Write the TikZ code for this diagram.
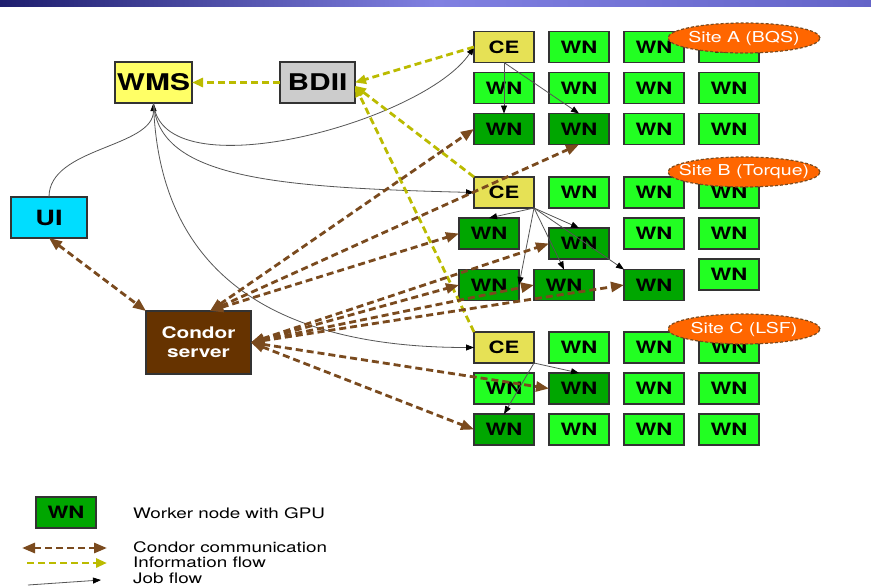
\documentclass[tikz,border=0pt]{standalone}
\usepackage{fontspec}
\setmainfont{TeX Gyre Heros}
\usepackage{graphicx}
\usetikzlibrary{positioning,shapes.geometric,arrows.meta}
\definecolor{wmsyellow}{HTML}{FFFF66}
\definecolor{cefill}{HTML}{E6E155}
\definecolor{bdiigray}{HTML}{CCCCCC}
\definecolor{uicyan}{HTML}{00DDFF}
\definecolor{wnlight}{HTML}{22FF22}
\definecolor{wndark}{HTML}{00A600}
\definecolor{condorbrown}{HTML}{663300}
\definecolor{condorline}{HTML}{7A4A1E}
\definecolor{infoline}{HTML}{BBBB00}
\definecolor{siteorange}{HTML}{FF6600}
\definecolor{boxline}{HTML}{333333}
\definecolor{jobline}{HTML}{555555}
\newcommand{\wide}[1]{\scalebox{1.3}[1]{#1}}
\tikzset{box/.style={draw=boxline,line width=1.3pt,inner sep=0pt,outer sep=0pt,minimum width=60pt,minimum height=31pt,font=\bfseries\fontsize{17}{17}\selectfont},
  ce node/.style={box,fill=cefill},
  wn node/.style={box,fill=wnlight},
  gpu node/.style={box,fill=wndark},
  site node/.style={ellipse,draw=condorline,dash pattern=on 3pt off 2pt,line width=1.2pt,fill=siteorange,text=white,minimum width=152pt,minimum height=30pt,inner xsep=-14pt,inner ysep=0pt,font=\fontsize{15}{15}\selectfont},
  job/.style={draw=jobline,line width=0.8pt,-{Triangle[length=8pt,width=6pt,color=black]}},
  info/.style={draw=infoline,line width=2.8pt,dash pattern=on 7pt off 4pt,-{Triangle[length=11pt,width=9pt]}},
  condor/.style={draw=condorline,line width=2.8pt,dash pattern=on 7pt off 4pt,{Triangle[length=13pt,width=10pt]}-{Triangle[length=13pt,width=10pt]}},
  legend text/.style={anchor=base west,inner sep=0pt,font=\fontsize{14.5}{14.5}\selectfont}
}

\begin{document}
\begin{tikzpicture}[x=1pt,y=1pt]
  \useasboundingbox (0,0) rectangle (871,-587);
  \fill[white] (0,0) rectangle (871,-587);
  \shade[left color={rgb,255:red,30;green,30;blue,110},right color={rgb,255:red,100;green,100;blue,200},middle color={rgb,255:red,128;green,128;blue,225}] (0,0) rectangle (871,-6.5);

  % grid services
  \node[box,fill=wmsyellow,minimum width=77pt,minimum height=41pt,font=\bfseries\fontsize{23}{23}\selectfont] (wms) at (153.5,-82.5) {\wide{WMS}};
  \node[box,fill=bdiigray,minimum width=75pt,minimum height=41pt,font=\bfseries\fontsize{23}{23}\selectfont] (bdii) at (317.5,-82.5) {\wide{BDII}};
  \node[box,fill=uicyan,minimum width=76pt,minimum height=41pt,font=\bfseries\fontsize{21}{21}\selectfont] (ui) at (49,-217.5) {\wide{UI}};
  \node[box,fill=condorbrown,text=white,align=center,minimum width=105pt,minimum height=63pt,font=\bfseries\fontsize{16}{19}\selectfont] (cs) at (198.5,-342.5) {\wide{Condor}\\\wide{server}};

  % site A
  \node[ce node] (cea) at (504,-47) {\wide{CE}};
  \node[wn node] (a12) [right=15pt of cea] {\wide{WN}};
  \node[wn node] (a13) [right=15pt of a12] {\wide{WN}};
  \node[wn node] (a14) [right=15pt of a13] {\wide{WN}};
  \node[wn node] (a21) [below=10pt of cea] {\wide{WN}};
  \node[wn node] (a22) [right=15pt of a21] {\wide{WN}};
  \node[wn node] (a23) [right=15pt of a22] {\wide{WN}};
  \node[wn node] (a24) [right=15pt of a23] {\wide{WN}};
  \node[gpu node] (a31) [below=10pt of a21] {\wide{WN}};
  \node[gpu node] (a32) [right=15pt of a31] {\wide{WN}};
  \node[wn node] (a33) [right=15pt of a32] {\wide{WN}};
  \node[wn node] (a34) [right=15pt of a33] {\wide{WN}};

  % site B
  \node[ce node] (ceb) at (504,-192.5) {\wide{CE}};
  \node[wn node] (b12) [right=15pt of ceb] {\wide{WN}};
  \node[wn node] (b13) [right=15pt of b12] {\wide{WN}};
  \node[wn node] (b14) [right=15pt of b13] {\wide{WN}};
  \node[gpu node] (b21) at (489,-233.5) {\wide{WN}};
  \node[gpu node] (b22) at (579,-243.5) {\wide{WN}};
  \node[wn node] (b23) [below=10pt of b13] {\wide{WN}};
  \node[wn node] (b24) [below=10pt of b14] {\wide{WN}};
  \node[wn node] (b34) [below=10pt of b24] {\wide{WN}};
  \node[gpu node] (b31) at (489,-285) {\wide{WN}};
  \node[gpu node] (b32) [right=15pt of b31] {\wide{WN}};
  \node[gpu node] (b33) at (654,-285) {\wide{WN}};

  % site C
  \node[ce node] (cec) at (504,-347.5) {\wide{CE}};
  \node[wn node] (c12) [right=15pt of cec] {\wide{WN}};
  \node[wn node] (c13) [right=15pt of c12] {\wide{WN}};
  \node[wn node] (c14) [right=15pt of c13] {\wide{WN}};
  \node[wn node] (c21) [below=10pt of cec] {\wide{WN}};
  \node[gpu node] (c22) [right=15pt of c21] {\wide{WN}};
  \node[wn node] (c23) [right=15pt of c22] {\wide{WN}};
  \node[wn node] (c24) [right=15pt of c23] {\wide{WN}};
  \node[gpu node] (c31) [below=10pt of c21] {\wide{WN}};
  \node[wn node] (c32) [right=15pt of c31] {\wide{WN}};
  \node[wn node] (c33) [right=15pt of c32] {\wide{WN}};
  \node[wn node] (c34) [right=15pt of c33] {\wide{WN}};

  % job flow
  \draw[job] (ui.north) .. controls +(0,50) and +(0,-45) .. (wms.south);
  \draw[job] (wms.south) .. controls +(8,-90) and +(-50,-75) .. (cea.west);
  \draw[job] (wms.south) .. controls +(5,-75) and +(-200,5) .. (ceb.west);
  \draw[job] (wms.south) .. controls +(5,-170) and +(-200,0) .. (cec.west);
  \draw[job] (cea.south) -- (a31.north);
  \draw[job] (cea.south) -- (a32.north);
  \draw[job] (ceb.south east) -- (b21.north);
  \draw[job] (ceb.south east) -- (b22.north);
  \draw[job] (ceb.south east) -- (b31.east);
  \draw[job] (ceb.south east) -- (b32.north);
  \draw[job] (ceb.south east) -- (b33.north west);
  \draw[job] (cec.south east) -- (c22.north);
  \draw[job] (cec.south east) -- (c31.north);

  % information flow
  \draw[info] (bdii.west) -- (wms.east);
  \draw[info] (cea.west) -- (bdii.east);
  \draw[info] (ceb.north west) -- (bdii.-5);
  \draw[info] (cec.north west) -- (bdii.-5);

  % condor communication
  \draw[condor] (ui.south) -- (cs.north west);
  \draw[condor] (cs.70) -- (a31.west);
  \draw[condor] (cs.70) -- (a32.south);
  \draw[condor] (cs.70) -- (b21.west);
  \draw[condor] (cs.east) -- (b22.west);
  \draw[condor] (cs.east) -- (b31.west);
  \draw[condor] (cs.east) -- (b32.west);
  \draw[condor] (cs.east) -- (b33.west);
  \draw[condor] (cs.east) -- (c22.west);
  \draw[condor] (cs.east) -- (c31.west);

  % sites
  \node[site node] (sitea) at (744,-38) {\wide{Site A (BQS)}};
  \node[site node] (siteb) at (744,-172) {\wide{Site B (Torque)}};
  \node[site node] (sitec) at (744,-329) {\wide{Site C (LSF)}};

  % legend
  \node[gpu node] (legwn) at (66,-512.5) {\wide{WN}};
  \node[legend text] (legwntext) at (133,-518) {\wide{Worker node with GPU}};
  \coordinate (lca) at (22,-548);
  \coordinate (lcb) at (107,-548);
  \coordinate (lia) at (27,-563);
  \coordinate (lib) at (107,-563);
  \coordinate (lja) at (28,-585);
  \coordinate (ljb) at (101,-580);
  \draw[condor] (lca) -- (lcb);
  \draw[info] (lia) -- (lib);
  \draw[job] (lja) -- (ljb);
  \node[legend text] (legcondor) at (133,-552) {\wide{Condor communication}};
  \node[legend text] (leginfo) at (133,-567) {\wide{Information flow}};
  \node[legend text] (legjob) at (133,-583) {\wide{Job flow}};
\end{tikzpicture}
\end{document}
